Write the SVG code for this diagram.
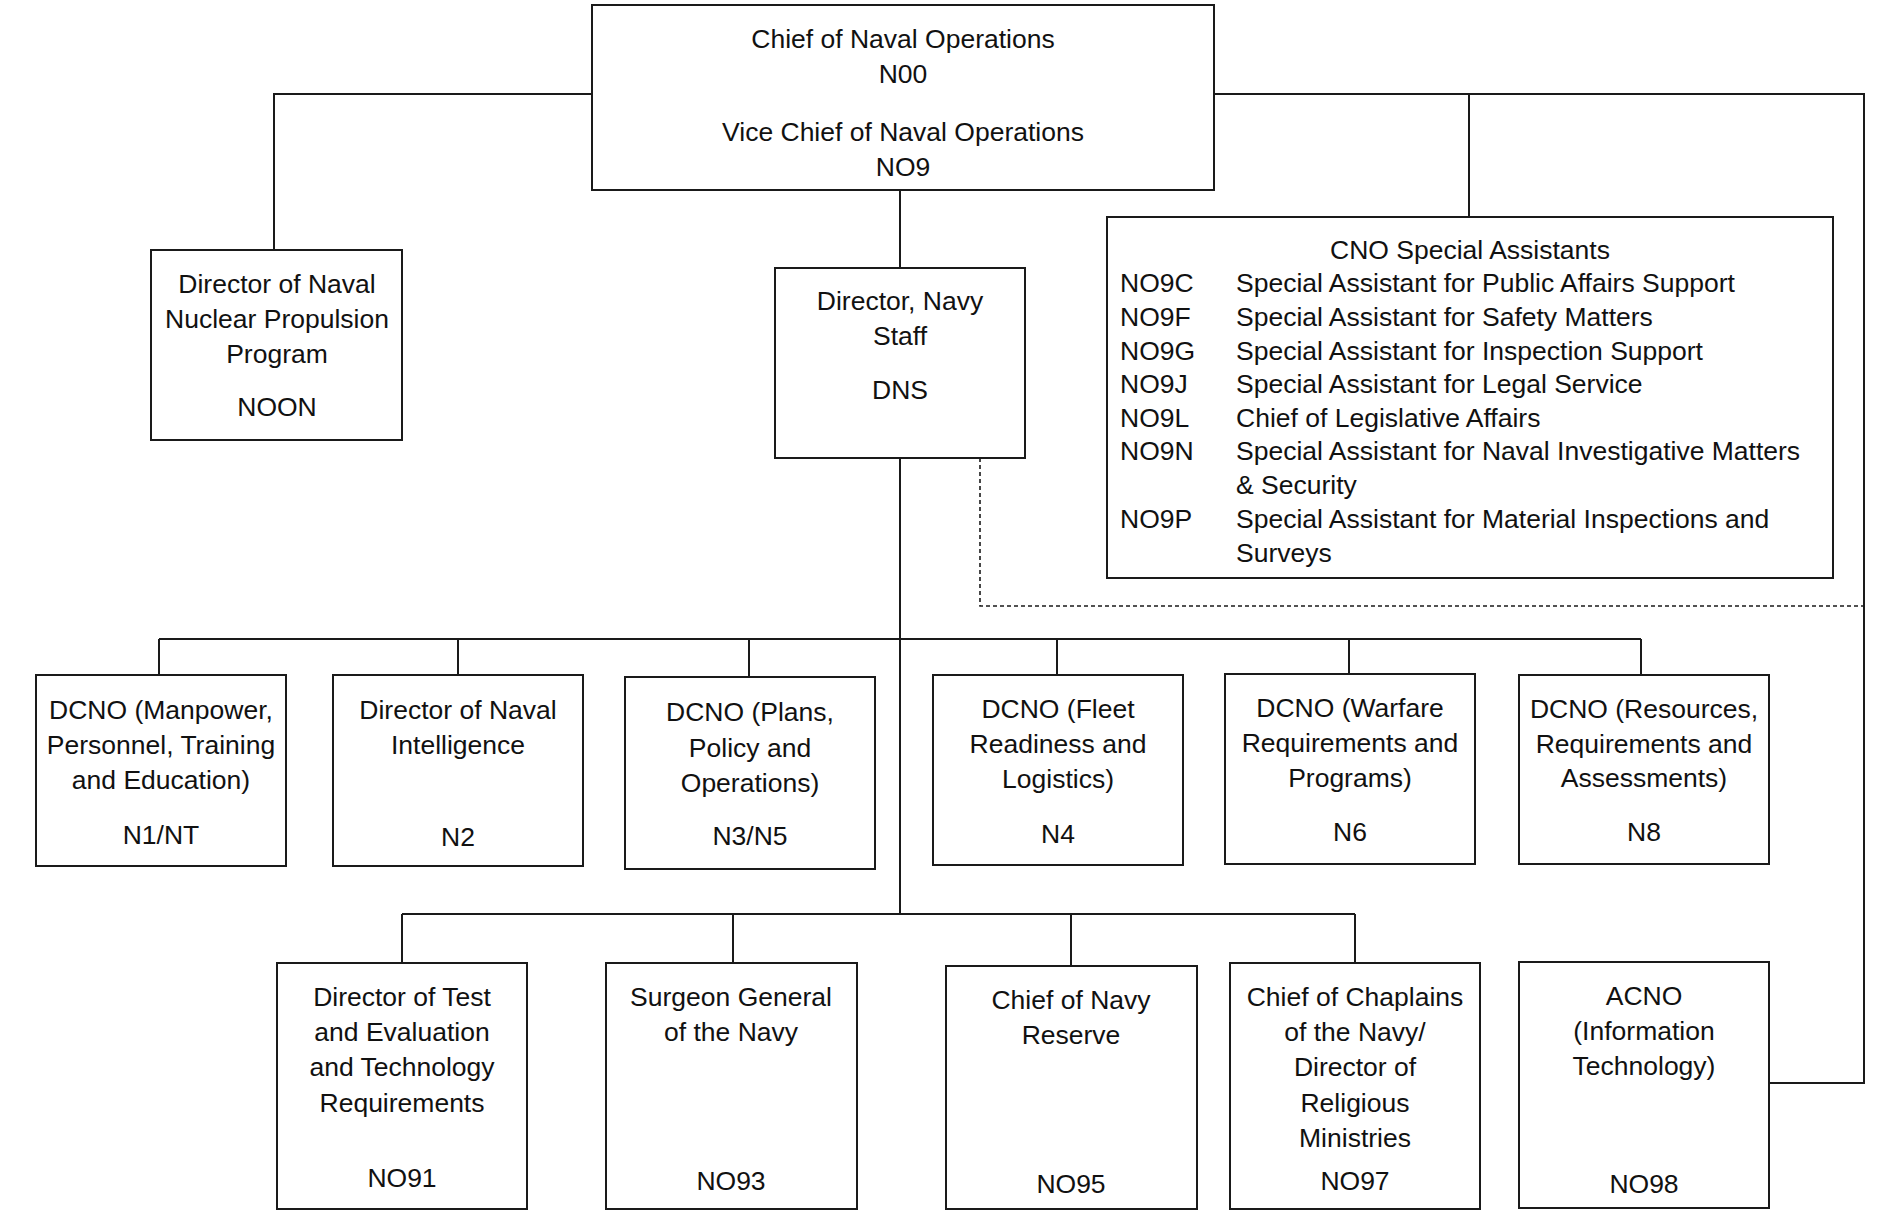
<svg xmlns="http://www.w3.org/2000/svg" width="1900" height="1216" viewBox="0 0 1900 1216">
<style>
.box{fill:#fff;stroke:#1a1a1a;stroke-width:2}
.ln{fill:none;stroke:#1a1a1a;stroke-width:2}
.dash{fill:none;stroke:#1a1a1a;stroke-width:1.6;stroke-dasharray:4 3}
text{font-family:"Liberation Sans",Arial,sans-serif;font-size:26.5px;fill:#111}
.c{text-anchor:middle}
</style>
<rect width="1900" height="1216" fill="#fff"/>
<g id="connectors">
<polyline class="ln" points="592,94 274,94 274,250"/>
<polyline class="ln" points="1214,94 1864,94 1864,1083 1769,1083"/>
<line class="ln" x1="1469" y1="94" x2="1469" y2="217"/>
<line class="ln" x1="900" y1="190" x2="900" y2="268"/>
<line class="ln" x1="900" y1="458" x2="900" y2="914"/>
<polyline class="dash" points="980,458 980,606 1864,606"/>
<line class="ln" x1="159" y1="639" x2="1641" y2="639"/>
<line class="ln" x1="159" y1="639" x2="159" y2="675"/>
<line class="ln" x1="458" y1="639" x2="458" y2="675"/>
<line class="ln" x1="749" y1="639" x2="749" y2="677"/>
<line class="ln" x1="1057" y1="639" x2="1057" y2="675"/>
<line class="ln" x1="1349" y1="639" x2="1349" y2="674"/>
<line class="ln" x1="1641" y1="639" x2="1641" y2="675"/>
<line class="ln" x1="402" y1="914" x2="1355" y2="914"/>
<line class="ln" x1="402" y1="914" x2="402" y2="963"/>
<line class="ln" x1="733" y1="914" x2="733" y2="963"/>
<line class="ln" x1="1071" y1="914" x2="1071" y2="966"/>
<line class="ln" x1="1355" y1="914" x2="1355" y2="963"/>
</g>
<g id="n00">
<rect class="box" x="592" y="5" width="622" height="185"/>
<text class="c" x="903" y="48">Chief of Naval Operations</text>
<text class="c" x="903" y="83">N00</text>
<text class="c" x="903" y="141">Vice Chief of Naval Operations</text>
<text class="c" x="903" y="176">NO9</text>
</g>
<g id="noon">
<rect class="box" x="151" y="250" width="251" height="190"/>
<text class="c" x="277" y="293">Director of Naval</text>
<text class="c" x="277" y="328">Nuclear Propulsion</text>
<text class="c" x="277" y="363">Program</text>
<text class="c" x="277" y="416">NOON</text>
</g>
<g id="dns">
<rect class="box" x="775" y="268" width="250" height="190"/>
<text class="c" x="900" y="310">Director, Navy</text>
<text class="c" x="900" y="345">Staff</text>
<text class="c" x="900" y="399">DNS</text>
</g>
<g id="special-assistants">
<rect class="box" x="1107" y="217" width="726" height="361"/>
<text class="c" x="1470" y="259">CNO Special Assistants</text>
<text x="1120" y="292">NO9C</text><text x="1236" y="292">Special Assistant for Public Affairs Support</text>
<text x="1120" y="326">NO9F</text><text x="1236" y="326">Special Assistant for Safety Matters</text>
<text x="1120" y="360">NO9G</text><text x="1236" y="360">Special Assistant for Inspection Support</text>
<text x="1120" y="393">NO9J</text><text x="1236" y="393">Special Assistant for Legal Service</text>
<text x="1120" y="427">NO9L</text><text x="1236" y="427">Chief of Legislative Affairs</text>
<text x="1120" y="460">NO9N</text><text x="1236" y="460">Special Assistant for Naval Investigative Matters</text>
<text x="1236" y="494">&amp; Security</text>
<text x="1120" y="528">NO9P</text><text x="1236" y="528">Special Assistant for Material Inspections and</text>
<text x="1236" y="562">Surveys</text>
</g>
<g id="n1">
<rect class="box" x="36" y="675" width="250" height="191"/>
<text class="c" x="161" y="719">DCNO (Manpower,</text>
<text class="c" x="161" y="754">Personnel, Training</text>
<text class="c" x="161" y="789">and Education)</text>
<text class="c" x="161" y="844">N1/NT</text>
</g>
<g id="n2">
<rect class="box" x="333" y="675" width="250" height="191"/>
<text class="c" x="458" y="719">Director of Naval</text>
<text class="c" x="458" y="754">Intelligence</text>
<text class="c" x="458" y="846">N2</text>
</g>
<g id="n3n5">
<rect class="box" x="625" y="677" width="250" height="192"/>
<text class="c" x="750" y="721">DCNO (Plans,</text>
<text class="c" x="750" y="757">Policy and</text>
<text class="c" x="750" y="792">Operations)</text>
<text class="c" x="750" y="845">N3/N5</text>
</g>
<g id="n4">
<rect class="box" x="933" y="675" width="250" height="190"/>
<text class="c" x="1058" y="718">DCNO (Fleet</text>
<text class="c" x="1058" y="753">Readiness and</text>
<text class="c" x="1058" y="788">Logistics)</text>
<text class="c" x="1058" y="843">N4</text>
</g>
<g id="n6">
<rect class="box" x="1225" y="674" width="250" height="190"/>
<text class="c" x="1350" y="717">DCNO (Warfare</text>
<text class="c" x="1350" y="752">Requirements and</text>
<text class="c" x="1350" y="787">Programs)</text>
<text class="c" x="1350" y="841">N6</text>
</g>
<g id="n8">
<rect class="box" x="1519" y="675" width="250" height="189"/>
<text class="c" x="1644" y="718">DCNO (Resources,</text>
<text class="c" x="1644" y="753">Requirements and</text>
<text class="c" x="1644" y="787">Assessments)</text>
<text class="c" x="1644" y="841">N8</text>
</g>
<g id="n091">
<rect class="box" x="277" y="963" width="250" height="246"/>
<text class="c" x="402" y="1006">Director of Test</text>
<text class="c" x="402" y="1041">and Evaluation</text>
<text class="c" x="402" y="1076">and Technology</text>
<text class="c" x="402" y="1112">Requirements</text>
<text class="c" x="402" y="1187">NO91</text>
</g>
<g id="n093">
<rect class="box" x="606" y="963" width="251" height="246"/>
<text class="c" x="731" y="1006">Surgeon General</text>
<text class="c" x="731" y="1041">of the Navy</text>
<text class="c" x="731" y="1190">NO93</text>
</g>
<g id="n095">
<rect class="box" x="946" y="966" width="251" height="243"/>
<text class="c" x="1071" y="1009">Chief of Navy</text>
<text class="c" x="1071" y="1044">Reserve</text>
<text class="c" x="1071" y="1193">NO95</text>
</g>
<g id="n097">
<rect class="box" x="1230" y="963" width="250" height="246"/>
<text class="c" x="1355" y="1006">Chief of Chaplains</text>
<text class="c" x="1355" y="1041">of the Navy/</text>
<text class="c" x="1355" y="1076">Director of</text>
<text class="c" x="1355" y="1112">Religious</text>
<text class="c" x="1355" y="1147">Ministries</text>
<text class="c" x="1355" y="1190">NO97</text>
</g>
<g id="n098">
<rect class="box" x="1519" y="962" width="250" height="246"/>
<text class="c" x="1644" y="1005">ACNO</text>
<text class="c" x="1644" y="1040">(Information</text>
<text class="c" x="1644" y="1075">Technology)</text>
<text class="c" x="1644" y="1193">NO98</text>
</g>
</svg>
